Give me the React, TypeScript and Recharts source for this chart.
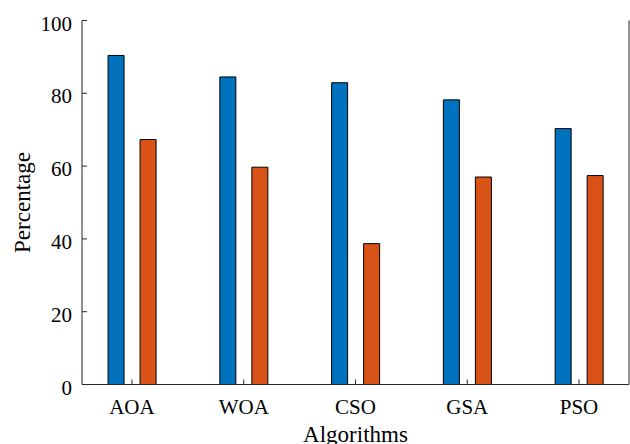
import React from 'react';
import { BarChart, Bar, XAxis, YAxis, Label } from 'recharts';

const categories = ['AOA', 'WOA', 'CSO', 'GSA', 'PSO'];
const seriesA = [90.4, 84.5, 82.9, 78.2, 70.3];
const seriesB = [67.3, 59.7, 38.7, 57.0, 57.4];
const yTicks = [0, 20, 40, 60, 80, 100];
const xTicks = categories.map((_, i) => i + 1);

const data = categories.map((name, i) => ({ idx: i + 1, name, a: seriesA[i], b: seriesB[i] }));

const FONT = '"Liberation Serif", "Times New Roman", serif';
const AXIS = '#262626';
const VAXIS = '#262626';

const BottomTick = (props: any) => {
  const { x, y, payload } = props;
  return (
    <g>
      <line x1={x} x2={x} y1={y} y2={y - 5} stroke={AXIS} strokeWidth={1} />
      <text x={x} y={y + 29} textAnchor="middle" fontFamily={FONT} fontSize={21} fill="#000">
        {categories[payload.value - 1]}
      </text>
    </g>
  );
};

const TopTick = (props: any) => {
  const { x, y } = props;
  return <line x1={x} x2={x} y1={y} y2={y + 5} stroke={AXIS} strokeWidth={1} />;
};

const LeftTick = (props: any) => {
  const { x, y, payload } = props;
  return (
    <g>
      <line x1={x} x2={x + 5} y1={y} y2={y} stroke={AXIS} strokeWidth={1} />
      <text x={x - 10} y={y + 10} textAnchor="end" fontFamily={FONT} fontSize={21} fill="#000">
        {payload.value}
      </text>
    </g>
  );
};

const RightTick = (props: any) => {
  const { x, y } = props;
  return <line x1={x} x2={x - 5} y1={y} y2={y} stroke={AXIS} strokeWidth={1} />;
};

export default function App() {
  return (
    <div style={{ position: 'absolute', left: 0, top: 0, width: 630, height: 444, background: '#fff' }}>
      <BarChart
        width={630}
        height={444}
        data={data}
        margin={{ top: 20.5, right: 0, bottom: 0, left: 0 }}
        barSize={16}
        barGap={16}
      >
        <XAxis
          dataKey="idx"
          type="number"
          domain={[0.553, 5.447]}
          ticks={xTicks}
          allowDataOverflow
          height={59.5}
          tickSize={0}
          tickMargin={0}
          axisLine={{ stroke: AXIS, strokeWidth: 1 }}
          tickLine={false}
          tick={<BottomTick />}
          interval={0}
        >
          <Label
            content={() => (
              <text x={355.5} y={441.5} textAnchor="middle" fontFamily={FONT} fontSize={23} fill="#000">
                Algorithms
              </text>
            )}
          />
        </XAxis>
        <XAxis
          xAxisId="top"
          dataKey="idx"
          type="number"
          orientation="top"
          domain={[0.553, 5.447]}
          ticks={xTicks}
          allowDataOverflow
          height={0}
          tickSize={0}
          tickMargin={0}
          axisLine={{ stroke: AXIS, strokeWidth: 1 }}
          tickLine={false}
          tick={<TopTick />}
          interval={0}
        />
        <YAxis
          type="number"
          domain={[0, 100]}
          ticks={yTicks}
          width={82}
          tickSize={0}
          tickMargin={0}
          axisLine={{ stroke: VAXIS, strokeWidth: 1 }}
          tickLine={false}
          tick={<LeftTick />}
          interval={0}
        >
          <Label
            content={() => (
              <text
                x={30}
                y={202.5}
                transform="rotate(-90 30 202.5)"
                textAnchor="middle"
                fontFamily={FONT}
                fontSize={23}
                fill="#000"
              >
                Percentage
              </text>
            )}
          />
        </YAxis>
        <YAxis
          yAxisId="right"
          orientation="right"
          type="number"
          domain={[0, 100]}
          ticks={yTicks}
          width={1}
          tickSize={0}
          tickMargin={0}
          axisLine={{ stroke: VAXIS, strokeWidth: 1 }}
          tickLine={false}
          tick={<RightTick />}
          interval={0}
        />
        <Bar dataKey="a" fill="#0072BD" stroke="#000" strokeWidth={1} isAnimationActive={false} />
        <Bar dataKey="b" fill="#D95319" stroke="#000" strokeWidth={1} isAnimationActive={false} />
      </BarChart>
    </div>
  );
}
